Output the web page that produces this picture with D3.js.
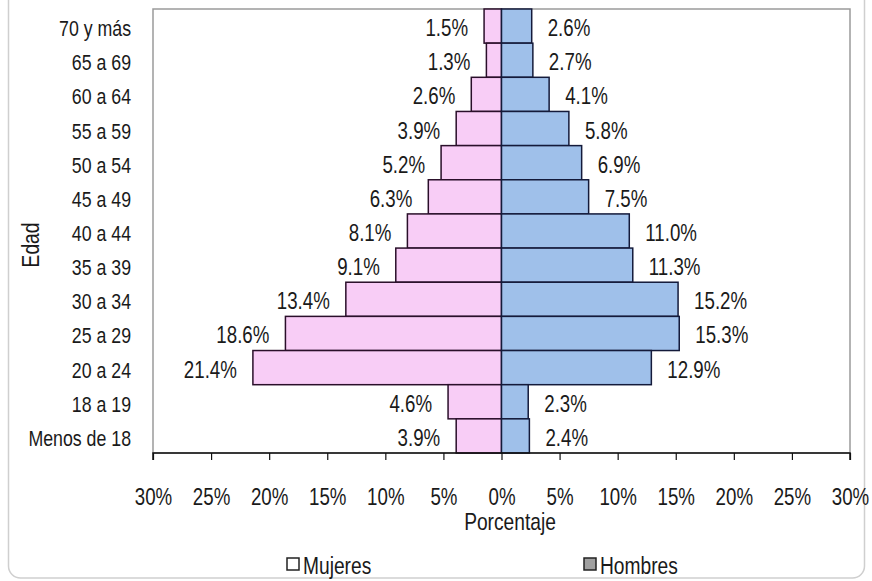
<!DOCTYPE html>
<html>
<head>
<meta charset="utf-8">
<script src="https://cdn.jsdelivr.net/npm/d3@7"></script>
<style>
  body { margin: 0; background: #fff; }
  text { font-family: "Liberation Sans", Arial, sans-serif; fill: #1a1a1a; }
</style>
</head>
<body>
<div id="chart"></div>
<script>
// age groups, top to bottom
var edades = ["70 y más", "65 a 69", "60 a 64", "55 a 59", "50 a 54", "45 a 49",
  "40 a 44", "35 a 39", "30 a 34", "25 a 29", "20 a 24", "18 a 19", "Menos de 18"];
var mujeres = [1.5, 1.3, 2.6, 3.9, 5.2, 6.3, 8.1, 9.1, 13.4, 18.6, 21.4, 4.6, 3.9];
var hombres = [2.6, 2.7, 4.1, 5.8, 6.9, 7.5, 11.0, 11.3, 15.2, 15.3, 12.9, 2.3, 2.4];
var ticks = [-30, -25, -20, -15, -10, -5, 0, 5, 10, 15, 20, 25, 30];

var svgWidth = 872;
var svgHeight = 581;

var plot = { left: 153, right: 850, top: 9, bottom: 453 };

// the source text is a bit tall and narrow
var stretch = "scale(0.96,1.18)";

var svg = d3.select("#chart")
  .append("svg")
  .attr("width", svgWidth)
  .attr("height", svgHeight);

// outer chart border
svg.append("rect")
  .attr("x", 8.5).attr("y", -12)
  .attr("width", 856).attr("height", 590)
  .attr("rx", 12)
  .attr("fill", "none")
  .attr("stroke", "#cfcfcf")
  .attr("stroke-width", 1.5);

var x = d3.scaleLinear()
  .domain([-30, 30])
  .range([plot.left, plot.right]);

var y = d3.scaleBand()
  .domain(edades)
  .range([plot.top, plot.bottom])
  .padding(0);

// plot area frame
svg.append("rect")
  .attr("x", plot.left).attr("y", plot.top)
  .attr("width", plot.right - plot.left)
  .attr("height", plot.bottom - plot.top)
  .attr("fill", "none")
  .attr("stroke", "#9a9a9a")
  .attr("stroke-width", 1.5);

var data = edades.map(function(e, i) {
  return { edad: e, m: mujeres[i], h: hombres[i] };
});

// mujeres bars (left)
svg.selectAll(".barM")
  .data(data)
  .enter()
  .append("rect")
  .attr("class", "barM")
  .attr("x", d => x(-d.m))
  .attr("y", d => y(d.edad))
  .attr("width", d => x(0) - x(-d.m))
  .attr("height", y.bandwidth())
  .attr("fill", "#f8cdf6")
  .attr("stroke", "#2a0f2a")
  .attr("stroke-width", 1.5);

// hombres bars (right)
svg.selectAll(".barH")
  .data(data)
  .enter()
  .append("rect")
  .attr("class", "barH")
  .attr("x", x(0))
  .attr("y", d => y(d.edad))
  .attr("width", d => x(d.h) - x(0))
  .attr("height", y.bandwidth())
  .attr("fill", "#9fc0ea")
  .attr("stroke", "#141a3a")
  .attr("stroke-width", 1.5);

// value labels
svg.selectAll(".labM")
  .data(data)
  .enter()
  .append("text")
  .attr("transform", d => `translate(${x(-d.m) - 16}, ${y(d.edad) + y.bandwidth() / 2 + 10}) ${stretch}`)
  .attr("text-anchor", "end")
  .style("font-size", "19.5px")
  .text(d => d.m.toFixed(1) + "%");

svg.selectAll(".labH")
  .data(data)
  .enter()
  .append("text")
  .attr("transform", d => `translate(${x(d.h) + 16}, ${y(d.edad) + y.bandwidth() / 2 + 10}) ${stretch}`)
  .attr("text-anchor", "start")
  .style("font-size", "19.5px")
  .text(d => d.h.toFixed(1) + "%");

// category labels
svg.selectAll(".cat")
  .data(edades)
  .enter()
  .append("text")
  .attr("transform", d => `translate(131, ${y(d) + y.bandwidth() / 2 + 10}) ${stretch}`)
  .attr("text-anchor", "end")
  .style("font-size", "18.5px")
  .text(d => d);

// x axis
var xAxis = d3.axisBottom(x)
  .tickValues(ticks)
  .tickSize(7)
  .tickFormat(d => Math.abs(d) + "%");

var axisG = svg.append("g")
  .attr("transform", `translate(0, ${plot.bottom})`)
  .call(xAxis);

axisG.select(".domain").attr("stroke", "#111").attr("stroke-width", 1.5).attr("d", `M${plot.left},7V0H${plot.right}V7`);
axisG.selectAll(".tick line").attr("stroke", "#111").attr("stroke-width", 1.2);
axisG.selectAll(".tick text")
  .attr("y", 0)
  .attr("dy", null)
  .attr("transform", `translate(0, 52) ${stretch}`)
  .style("font-size", "19.5px")
  .style("font-family", "'Liberation Sans', Arial, sans-serif")
  .attr("fill", "#1a1a1a");

// axis titles
svg.append("text")
  .attr("transform", `translate(510, 530) ${stretch}`)
  .attr("text-anchor", "middle")
  .style("font-size", "20px")
  .text("Porcentaje");

svg.append("text")
  .attr("transform", "translate(39, 245) rotate(-90) " + stretch)
  .attr("text-anchor", "middle")
  .style("font-size", "20px")
  .text("Edad");

// legend
var legend = [
  { name: "Mujeres", x: 287, fill: "#ffffff" },
  { name: "Hombres", x: 584, fill: "#a0a0a0" }
];

var lg = svg.selectAll(".legend")
  .data(legend)
  .enter()
  .append("g")
  .attr("transform", d => `translate(${d.x}, 558)`);

lg.append("rect")
  .attr("width", 12)
  .attr("height", 12)
  .attr("fill", d => d.fill)
  .attr("stroke", "#222")
  .attr("stroke-width", 1.5);

lg.append("text")
  .attr("transform", `translate(16, 16) ${stretch}`)
  .style("font-size", "20px")
  .text(d => d.name);
</script>
</body>
</html>
